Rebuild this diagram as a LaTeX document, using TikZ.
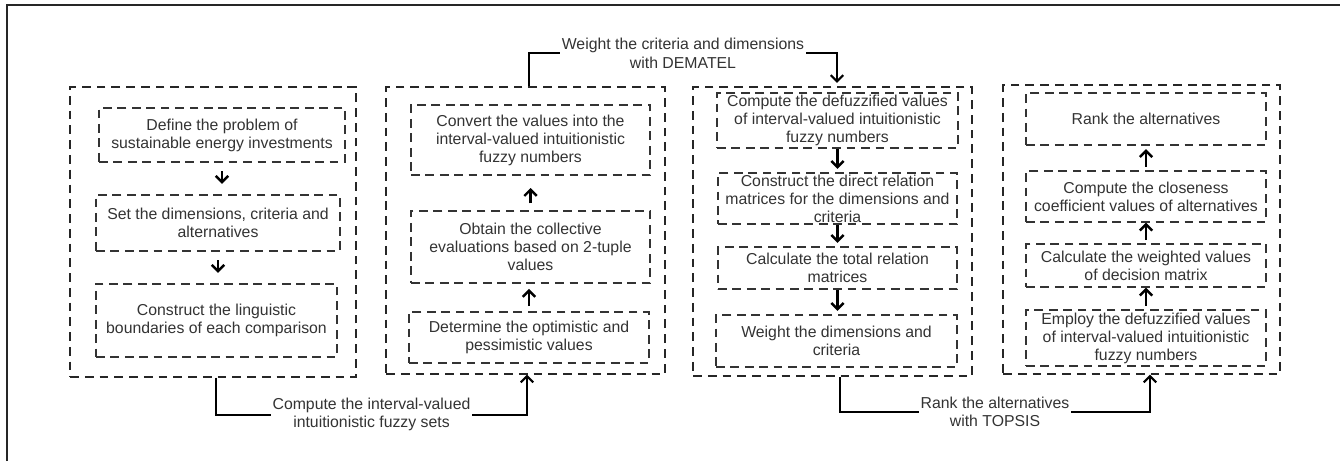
\documentclass[tikz,border=0pt]{standalone}
\usepackage{fontspec}
\setmainfont{Liberation Sans}
\usetikzlibrary{shapes,arrows,arrows.meta,positioning,calc}

\tikzset{
  stepbox/.style={rectangle,draw=black!80,dash pattern=on 5pt off 3.2pt,line width=0.8pt,
    align=center,inner sep=0pt,text=black!80,font=\fontsize{9}{10.3}\selectfont},
  groupbox/.style={rectangle,draw=black!85,dash pattern=on 5pt off 3.4pt,line width=0.85pt},
  flow/.style={-{Straight Barb[length=3.5pt,width=7pt]},line width=1.4pt,shorten <=2pt,shorten >=2pt},
  link/.style={-{Straight Barb[length=3.5pt,width=7pt]},line width=1.2pt},
  linklabel/.style={fill=white,align=center,inner sep=1pt,text=black!80,
    font=\fontsize{9}{10.3}\selectfont}
}

\begin{document}
\begin{tikzpicture}[x=0.02cm,y=-0.02cm]
    \useasboundingbox (0,0) rectangle (1340,461);
    \draw[black!85,line width=0.8pt] (7,461) -- (7,5) -- (1340,5);

    % Groups
    \node[groupbox,minimum width=5.72cm,minimum height=5.80cm] (c1) at (213,232) {};
    \node[groupbox,minimum width=5.58cm,minimum height=5.74cm] (c2) at (525.5,230.5) {};
    \node[groupbox,minimum width=5.58cm,minimum height=5.78cm] (c3) at (832.5,231.5) {};
    \node[groupbox,minimum width=5.54cm,minimum height=5.78cm] (c4) at (1141.5,229.5) {};

    % Problem setting
    \node[stepbox,minimum width=4.92cm,minimum height=1.08cm] (define) at (222,135) {Define the problem of\\sustainable energy investments};
    \node[stepbox,minimum width=4.88cm,minimum height=1.12cm] (setdims) at (218,223) {Set the dimensions, criteria and\\alternatives};
    \node[stepbox,minimum width=4.82cm,minimum height=1.46cm] (bounds) at (216.5,320.5) {Construct the linguistic\\boundaries of each comparison};
    \draw[flow,shorten <=5pt,shorten >=6pt] (define.south) -- (define.south |- setdims.north);
    \draw[flow,shorten <=5pt,shorten >=6pt] (setdims.south) -- (setdims.south |- bounds.north);

    % Fuzzy sets
    \node[stepbox,minimum width=4.78cm,minimum height=1.40cm] (convert) at (530.5,140) {Convert the values into the\\interval-valued intuitionistic\\fuzzy numbers};
    \node[stepbox,minimum width=4.78cm,minimum height=1.44cm] (collect) at (530.5,247) {Obtain the collective\\evaluations based on 2-tuple\\values};
    \node[stepbox,minimum width=4.80cm,minimum height=1.02cm] (optim) at (529,337.5) {Determine the optimistic and\\pessimistic values};
    \draw[flow,shorten <=3pt,shorten >=3pt] (optim.north) -- (optim.north |- collect.south);
    \draw[flow,shorten <=4pt,shorten >=7pt] (collect.north) -- (collect.north |- convert.south);

    % DEMATEL
    \node[stepbox,minimum width=4.82cm,minimum height=1.10cm] (defuzz) at (837.5,120.5) {Compute the defuzzified values\\of interval-valued intuitionistic\\fuzzy numbers};
    \node[stepbox,minimum width=4.78cm,minimum height=1.02cm] (direct) at (837.5,198.5) {Construct the direct relation\\matrices for the dimensions and\\criteria};
    \node[stepbox,minimum width=4.78cm,minimum height=0.84cm] (total) at (837.5,268) {Calculate the total relation\\matrices};
    \node[stepbox,minimum width=4.82cm,minimum height=1.04cm] (weight) at (836.5,341) {Weight the dimensions and\\criteria};
    \draw[flow,shorten <=0pt] (defuzz.south) -- (defuzz.south |- direct.north);
    \draw[flow,shorten <=0pt] (direct.south) -- (direct.south |- total.north);
    \draw[flow,shorten <=0pt] (total.south) -- (total.south |- weight.north);

    % TOPSIS
    \node[stepbox,minimum width=4.80cm,minimum height=1.04cm] (rank) at (1146,119) {Rank the alternatives};
    \node[stepbox,minimum width=4.80cm,minimum height=1.02cm] (close) at (1146,196.5) {Compute the closeness\\coefficient values of alternatives};
    \node[stepbox,minimum width=4.80cm,minimum height=0.86cm] (weighted) at (1146,265.5) {Calculate the weighted values\\of decision matrix};
    \node[stepbox,minimum width=4.80cm,minimum height=1.12cm] (employ) at (1146,338) {Employ the defuzzified values\\of interval-valued intuitionistic\\fuzzy numbers};
    \draw[flow,shorten >=0pt] (employ.north) -- (employ.north |- weighted.south);
    \draw[flow,shorten >=0pt] (weighted.north) -- (weighted.north |- close.south);
    \draw[flow] (close.north) -- (close.north |- rank.south);

    % Links between groups
    \draw[link] ([xshift=0.06cm]c1.south) -- ++(0,37) -| node[linklabel,pos=0.25] {Compute the interval-valued\\intuitionistic fuzzy sets} ([xshift=0.03cm]c2.south);
    \draw[link,shorten >=2pt] ([xshift=0.07cm]c2.north) -- ++(0,-33) -| node[linklabel,pos=0.25] {Weight the criteria and dimensions\\with DEMATEL} ([xshift=0.09cm]c3.north);
    \draw[link] ([xshift=0.15cm]c3.south) -- ++(0,35) -| node[linklabel,pos=0.25] {Rank the alternatives\\with TOPSIS} ([xshift=0.17cm]c4.south);
\end{tikzpicture}
\end{document}
